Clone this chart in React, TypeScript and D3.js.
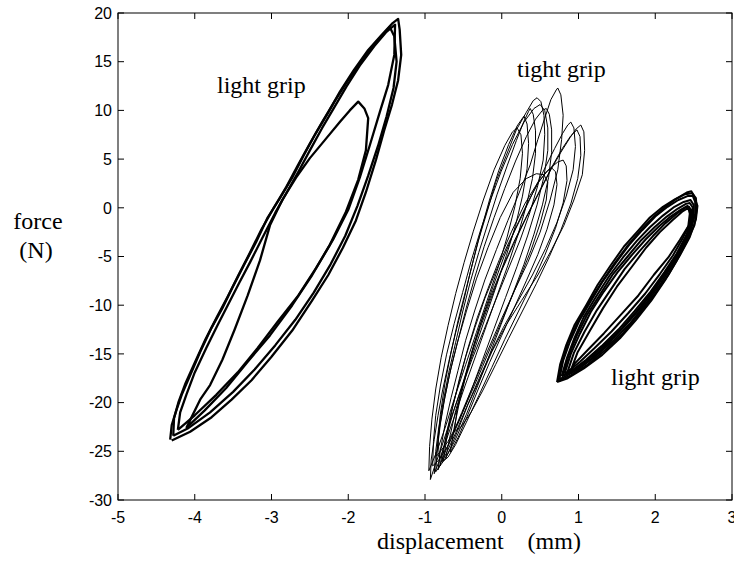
import React from "react";
import * as d3 from "d3";

type Pt = [number, number];

// tick values
const xTicks = [-5, -4, -3, -2, -1, 0, 1, 2, 3];
const yTicks = [20, 15, 10, 5, 0, -5, -10, -15, -20, -25, -30];

// left cluster: light grip (displacement mm, force N)
const leftLoop1: Pt[] = [
  [-4.32, -23.8], [-4.30, -22.3], [-4.24, -20.8], [-4.17, -19.2], [-4.06, -17.2], [-3.93, -14.8],
  [-3.78, -12.3], [-3.64, -10.3], [-3.51, -8.2], [-3.36, -5.9], [-3.20, -3.5], [-3.05, -1.0],
  [-2.89, 1.0], [-2.73, 3.1], [-2.58, 5.4], [-2.42, 7.7], [-2.26, 9.8], [-2.11, 11.9],
  [-1.93, 14.1], [-1.74, 16.2], [-1.56, 17.8], [-1.43, 18.9], [-1.35, 19.4],
  [-1.33, 18.3], [-1.31, 15.7], [-1.35, 13.1], [-1.43, 10.6], [-1.53, 8.0], [-1.64, 4.9],
  [-1.77, 1.6], [-1.90, -1.3], [-2.07, -4.1], [-2.26, -6.9], [-2.47, -9.5], [-2.73, -12.6],
  [-3.00, -15.3], [-3.26, -17.7], [-3.52, -19.7], [-3.78, -21.5], [-4.06, -23.0], [-4.30, -23.9],
];
const leftLoop2: Pt[] = [
  [-4.22, -22.8], [-4.19, -21.0], [-4.11, -19.2], [-4.00, -16.9], [-3.85, -14.4], [-3.70, -12.0],
  [-3.57, -10.0], [-3.42, -7.7], [-3.28, -5.6], [-3.12, -3.1], [-2.95, -0.5], [-2.80, 1.6],
  [-2.65, 3.7], [-2.50, 5.9], [-2.34, 8.2], [-2.19, 10.2], [-2.02, 12.5], [-1.85, 14.6],
  [-1.66, 16.6], [-1.51, 18.0], [-1.39, 18.8],
  [-1.40, 15.7], [-1.48, 12.6], [-1.59, 9.8], [-1.72, 6.4], [-1.85, 3.1], [-2.00, -0.2],
  [-2.20, -3.3], [-2.42, -6.2], [-2.65, -9.0], [-2.92, -11.7], [-3.18, -14.4], [-3.44, -16.9],
  [-3.72, -19.2], [-4.00, -21.3], [-4.22, -22.8],
];
const leftLoop3: Pt[] = [
  [-4.11, -22.6], [-4.06, -21.8], [-3.93, -19.7], [-3.80, -18.2], [-3.64, -15.6], [-3.48, -12.5],
  [-3.31, -9.0], [-3.15, -5.4], [-3.02, -1.8], [-2.86, 0.8], [-2.68, 3.1], [-2.50, 5.1],
  [-2.30, 7.0], [-2.11, 8.8], [-1.98, 10.0], [-1.87, 10.9], [-1.79, 10.2], [-1.74, 9.2],
  [-1.77, 5.9], [-1.87, 2.9], [-2.03, -0.4], [-2.24, -3.8], [-2.47, -6.9], [-2.73, -10.0],
  [-3.02, -13.1], [-3.31, -15.8], [-3.59, -18.5], [-3.87, -20.8], [-4.11, -22.6],
];
const leftLoop4: Pt[] = [
  [-4.28, -23.4], [-4.27, -21.6], [-4.21, -19.9], [-4.12, -18.0], [-4.00, -15.9], [-3.86, -13.5],
  [-3.71, -11.2], [-3.57, -9.1], [-3.43, -6.9], [-3.28, -4.6], [-3.13, -2.2], [-2.97, 0.0],
  [-2.81, 2.1], [-2.66, 4.3], [-2.50, 6.6], [-2.34, 8.8], [-2.18, 10.9], [-2.01, 13.0],
  [-1.83, 15.0], [-1.65, 16.9], [-1.52, 18.0], [-1.46, 18.6],
  [-1.40, 17.6], [-1.37, 15.0], [-1.41, 12.3], [-1.50, 9.4], [-1.61, 6.4], [-1.74, 3.3],
  [-1.88, 0.2], [-2.04, -2.9], [-2.23, -5.8], [-2.45, -8.7], [-2.69, -11.5], [-2.95, -14.1],
  [-3.22, -16.6], [-3.50, -18.9], [-3.80, -21.0], [-4.08, -22.6], [-4.28, -23.4],
];

// middle cluster: tight grip
const midLoopA: Pt[] = [
  [-0.93, -27.9], [-0.92, -25.9], [-0.88, -23.8], [-0.83, -21.3], [-0.77, -18.7], [-0.69, -15.8],
  [-0.60, -12.8], [-0.50, -9.7], [-0.41, -6.6], [-0.31, -3.5], [-0.19, -0.4], [-0.08, 2.6],
  [0.06, 5.4], [0.19, 8.0], [0.32, 9.8], [0.41, 11.0], [0.46, 11.3],
  [0.51, 10.9], [0.55, 9.5], [0.56, 7.5], [0.54, 4.9], [0.47, 2.3], [0.37, -0.4], [0.24, -3.3],
  [0.08, -6.4], [-0.08, -9.5], [-0.23, -12.5], [-0.39, -15.6], [-0.54, -18.9], [-0.67, -21.8],
  [-0.79, -24.7], [-0.88, -26.7], [-0.93, -27.9],
];
const midLoopB: Pt[] = [
  [-0.88, -27.3], [-0.86, -25.0], [-0.82, -22.5], [-0.76, -19.8], [-0.69, -16.9], [-0.60, -13.8],
  [-0.51, -10.7], [-0.41, -7.6], [-0.30, -4.6], [-0.18, -1.6], [-0.06, 1.4], [0.07, 4.3],
  [0.19, 6.9], [0.29, 8.9], [0.35, 9.9], [0.37, 10.2],
  [0.41, 9.6], [0.44, 7.9], [0.44, 5.6], [0.40, 3.0], [0.32, 0.2], [0.21, -2.8], [0.08, -5.9],
  [-0.06, -9.0], [-0.20, -12.1], [-0.34, -15.2], [-0.48, -18.3], [-0.61, -21.3], [-0.73, -24.0],
  [-0.82, -26.1], [-0.88, -27.3],
];
const midLoopC: Pt[] = [
  [-0.80, -26.5], [-0.83, -24.0], [-0.80, -21.2], [-0.74, -18.0], [-0.66, -14.8], [-0.57, -11.6],
  [-0.47, -8.5], [-0.37, -5.4], [-0.27, -2.3], [-0.16, 0.8], [-0.04, 3.8], [0.09, 6.5],
  [0.20, 8.4], [0.27, 9.2], [0.29, 9.4],
  [0.33, 8.6], [0.35, 6.6], [0.33, 4.0], [0.27, 1.2], [0.18, -1.8], [0.06, -4.9], [-0.07, -8.0],
  [-0.21, -11.2], [-0.35, -14.4], [-0.49, -17.6], [-0.62, -20.7], [-0.72, -23.4], [-0.78, -25.3],
  [-0.80, -26.5],
];
const midLoopD: Pt[] = [
  [-0.83, -26.9], [-0.80, -24.9], [-0.74, -22.3], [-0.66, -19.5], [-0.57, -16.7], [-0.47, -13.6],
  [-0.35, -10.5], [-0.22, -7.4], [-0.07, -4.3], [0.08, -1.3], [0.24, 1.8], [0.37, 4.4],
  [0.47, 7.0], [0.56, 9.2], [0.64, 11.1], [0.71, 12.1], [0.73, 12.3],
  [0.77, 11.6], [0.80, 9.5], [0.78, 7.0], [0.73, 3.9], [0.63, 0.8], [0.50, -2.5], [0.34, -5.6],
  [0.16, -8.6], [-0.02, -11.7], [-0.19, -14.8], [-0.36, -18.0], [-0.52, -21.0], [-0.67, -23.8],
  [-0.78, -25.9], [-0.83, -26.9],
];
const midLoopE: Pt[] = [
  [-0.78, -26.1], [-0.73, -23.6], [-0.66, -21.0], [-0.57, -18.3], [-0.47, -15.3], [-0.35, -12.3],
  [-0.22, -9.3], [-0.07, -6.4], [0.09, -3.6], [0.26, -0.9], [0.42, 1.8], [0.57, 4.2],
  [0.69, 6.1], [0.79, 7.6], [0.86, 8.5], [0.90, 8.8],
  [0.94, 8.2], [0.96, 6.3], [0.93, 3.9], [0.84, 1.2], [0.72, -1.5], [0.57, -4.2], [0.40, -6.9],
  [0.21, -9.6], [0.02, -12.3], [-0.15, -15.0], [-0.31, -17.8], [-0.46, -20.5], [-0.60, -23.1],
  [-0.71, -25.0], [-0.78, -26.1],
];
const midLoopF: Pt[] = [
  [-0.73, -25.7], [-0.67, -23.3], [-0.60, -20.8], [-0.50, -18.1], [-0.40, -15.2], [-0.28, -12.3],
  [-0.15, -9.5], [-0.01, -6.6], [0.15, -3.8], [0.32, -1.0], [0.49, 1.6], [0.64, 3.9],
  [0.77, 5.7], [0.89, 7.2], [0.97, 8.1], [1.03, 8.5],
  [1.07, 7.8], [1.08, 5.9], [1.05, 3.4], [0.94, 0.8], [0.81, -1.8], [0.65, -4.3], [0.47, -6.9],
  [0.26, -9.5], [0.06, -12.0], [-0.13, -14.8], [-0.28, -17.5], [-0.44, -20.2], [-0.57, -22.8],
  [-0.67, -24.7], [-0.73, -25.7],
];
const midLoopG: Pt[] = [
  [-0.67, -25.1], [-0.62, -22.6], [-0.55, -19.9], [-0.46, -17.0], [-0.36, -14.0], [-0.24, -11.0],
  [-0.11, -8.0], [0.03, -5.0], [0.18, -2.1], [0.34, 0.6], [0.48, 2.6], [0.58, 3.7], [0.65, 4.1],
  [0.70, 3.7], [0.72, 2.4], [0.68, 0.3], [0.59, -2.2], [0.47, -4.8], [0.32, -7.5], [0.16, -10.3],
  [0.00, -13.1], [-0.16, -15.9], [-0.31, -18.7], [-0.45, -21.4], [-0.57, -23.6], [-0.67, -25.1],
];
const midLoopH: Pt[] = [
  [-0.76, -26.0], [-0.71, -23.3], [-0.64, -20.5], [-0.55, -17.5], [-0.44, -14.4], [-0.32, -11.3],
  [-0.18, -8.3], [-0.03, -5.3], [0.13, -2.4], [0.30, 0.4], [0.47, 2.6], [0.62, 4.0], [0.73, 4.7],
  [0.80, 4.9],
  [0.84, 4.3], [0.85, 2.8], [0.80, 0.5], [0.70, -2.1], [0.56, -4.9], [0.40, -7.7], [0.22, -10.6],
  [0.04, -13.5], [-0.13, -16.4], [-0.30, -19.3], [-0.46, -22.0], [-0.60, -24.3], [-0.70, -25.6],
  [-0.76, -26.0],
];
const midLoopI: Pt[] = [
  [-0.86, -27.1], [-0.84, -24.8], [-0.80, -22.2], [-0.74, -19.4], [-0.66, -16.4], [-0.56, -13.3],
  [-0.46, -10.2], [-0.35, -7.1], [-0.23, -4.0], [-0.10, -1.0], [0.04, 2.0], [0.18, 4.8],
  [0.32, 7.3], [0.44, 9.1], [0.53, 10.0], [0.58, 10.2],
  [0.62, 9.6], [0.65, 8.0], [0.65, 5.7], [0.61, 3.1], [0.53, 0.3], [0.42, -2.7], [0.29, -5.8],
  [0.14, -8.9], [-0.01, -12.0], [-0.16, -15.1], [-0.31, -18.2], [-0.46, -21.2], [-0.61, -23.9],
  [-0.74, -25.8], [-0.86, -27.1],
];
const midLoopJ: Pt[] = [
  [-0.90, -26.5], [-0.89, -24.0], [-0.86, -21.3], [-0.80, -18.3], [-0.72, -15.1], [-0.62, -11.9],
  [-0.51, -8.7], [-0.40, -5.5], [-0.28, -2.4], [-0.15, 0.7], [-0.01, 3.7], [0.14, 6.5],
  [0.29, 8.8], [0.42, 10.2], [0.50, 10.6],
  [0.56, 10.0], [0.60, 8.2], [0.60, 5.9], [0.55, 3.2], [0.46, 0.3], [0.34, -2.8], [0.20, -6.0],
  [0.05, -9.2], [-0.10, -12.4], [-0.25, -15.6], [-0.40, -18.8], [-0.55, -21.8], [-0.69, -24.3],
  [-0.82, -25.9], [-0.90, -26.5],
];
const midLoopK: Pt[] = [
  [-0.62, -23.0], [-0.58, -20.6], [-0.50, -17.9], [-0.40, -15.0], [-0.28, -12.0], [-0.14, -9.0],
  [0.01, -6.1], [0.17, -3.3], [0.34, -0.6], [0.51, 2.0], [0.66, 4.3], [0.79, 6.1], [0.90, 7.4],
  [0.98, 8.0],
  [1.02, 7.3], [1.03, 5.4], [0.99, 3.0], [0.90, 0.4], [0.77, -2.3], [0.62, -5.0], [0.45, -7.8],
  [0.27, -10.6], [0.09, -13.4], [-0.08, -16.1], [-0.25, -18.8], [-0.40, -21.0], [-0.53, -22.5],
  [-0.62, -23.0],
];
const midLoopL: Pt[] = [
  [-0.85, -25.5], [-0.82, -23.0], [-0.76, -20.2], [-0.68, -17.1], [-0.58, -13.9], [-0.46, -10.6],
  [-0.33, -7.3], [-0.18, -4.1], [-0.02, -1.0], [0.15, 1.6], [0.32, 3.0], [0.45, 3.5], [0.55, 3.4],
  [0.60, 2.6], [0.58, 0.8], [0.50, -1.6], [0.38, -4.4], [0.23, -7.3], [0.07, -10.3], [-0.09, -13.3],
  [-0.25, -16.3], [-0.41, -19.2], [-0.56, -21.9], [-0.70, -24.0], [-0.85, -25.5],
];
const midLoopM: Pt[] = [
  [-0.95, -27.0], [-0.94, -24.5], [-0.91, -21.7], [-0.86, -18.6], [-0.79, -15.4], [-0.70, -12.1],
  [-0.60, -8.8], [-0.49, -5.6], [-0.37, -2.4], [-0.24, 0.8], [-0.10, 3.9], [0.04, 6.4],
  [0.14, 7.8], [0.20, 8.2],
  [0.25, 7.5], [0.27, 5.6], [0.24, 3.0], [0.17, 0.1], [0.07, -3.0], [-0.05, -6.2], [-0.19, -9.5],
  [-0.33, -12.8], [-0.47, -16.1], [-0.61, -19.4], [-0.73, -22.4], [-0.84, -24.9], [-0.95, -27.0],
];

// right cluster: light grip
const rightLoop1: Pt[] = [
  [0.72, -17.9], [0.76, -16.1], [0.84, -14.1], [0.95, -12.0], [1.10, -10.0], [1.25, -7.9],
  [1.42, -5.9], [1.59, -4.0], [1.76, -2.5], [1.93, -1.0], [2.10, 0.1], [2.26, 0.9], [2.39, 1.4],
  [2.48, 1.5],
  [2.53, 1.0], [2.54, -0.2], [2.51, -1.8], [2.41, -3.5], [2.28, -5.4], [2.13, -7.4], [1.95, -9.5],
  [1.75, -11.5], [1.54, -13.4], [1.31, -15.1], [1.07, -16.5], [0.86, -17.5], [0.72, -17.9],
];
const rightLoop2: Pt[] = [
  [0.75, -17.6], [0.80, -15.7], [0.89, -13.7], [1.01, -11.6], [1.16, -9.6], [1.32, -7.5],
  [1.49, -5.6], [1.66, -3.8], [1.83, -2.3], [2.00, -0.9], [2.16, 0.1], [2.30, 0.8], [2.42, 1.2],
  [2.49, 1.2],
  [2.52, 0.6], [2.52, -0.6], [2.47, -2.1], [2.37, -3.9], [2.23, -5.8], [2.07, -7.8], [1.88, -9.8],
  [1.68, -11.8], [1.46, -13.6], [1.23, -15.2], [1.01, -16.5], [0.83, -17.3], [0.75, -17.6],
];
const rightLoop3: Pt[] = [
  [0.78, -17.3], [0.85, -15.4], [0.95, -13.3], [1.07, -11.2], [1.23, -9.1], [1.40, -7.0],
  [1.58, -5.1], [1.76, -3.4], [1.93, -2.0], [2.10, -0.8], [2.25, 0.1], [2.37, 0.6], [2.46, 0.8],
  [2.50, 0.3], [2.50, -0.9], [2.44, -2.5], [2.33, -4.3], [2.18, -6.2], [2.01, -8.2], [1.82, -10.2],
  [1.61, -12.1], [1.39, -13.9], [1.17, -15.5], [0.97, -16.6], [0.84, -17.1], [0.78, -17.3],
];
const rightLoop4: Pt[] = [
  [0.82, -17.0], [0.90, -15.0], [1.02, -12.9], [1.16, -10.7], [1.33, -8.6], [1.51, -6.6],
  [1.70, -4.8], [1.88, -3.2], [2.05, -1.9], [2.20, -0.9], [2.33, -0.2], [2.42, 0.2],
  [2.47, -0.2], [2.47, -1.3], [2.40, -2.9], [2.28, -4.7], [2.12, -6.6], [1.94, -8.6], [1.73, -10.6],
  [1.52, -12.5], [1.30, -14.2], [1.10, -15.6], [0.93, -16.6], [0.82, -17.0],
];
const rightLoop5: Pt[] = [
  [0.89, -16.9], [0.99, -14.8], [1.15, -12.6], [1.32, -10.3], [1.50, -8.1], [1.70, -6.0],
  [1.88, -4.1], [2.06, -2.5], [2.22, -1.3], [2.35, -0.4], [2.43, 0.0],
  [2.45, -0.6], [2.43, -1.9], [2.32, -3.3], [2.17, -5.1], [1.98, -6.9], [1.78, -9.0], [1.55, -11.0],
  [1.33, -12.9], [1.12, -14.6], [0.95, -16.0], [0.89, -16.9],
];
const rightLoop6: Pt[] = [
  [0.74, -17.8], [0.78, -16.0], [0.86, -13.9], [0.98, -11.9], [1.13, -9.8], [1.29, -7.8],
  [1.46, -5.8], [1.63, -4.0], [1.80, -2.4], [1.97, -1.0], [2.13, 0.1], [2.29, 1.0], [2.42, 1.6],
  [2.47, 1.7],
  [2.50, 1.3], [2.55, 0.2], [2.53, -1.2], [2.45, -3.0], [2.32, -4.9], [2.17, -6.9], [1.99, -8.9],
  [1.79, -10.9], [1.58, -12.9], [1.35, -14.6], [1.12, -16.1], [0.90, -17.2], [0.74, -17.8],
];
const rightLoop7: Pt[] = [
  [0.80, -17.2], [0.87, -15.2], [0.98, -13.1], [1.11, -11.0], [1.28, -8.9], [1.45, -6.8],
  [1.64, -5.0], [1.82, -3.3], [1.99, -2.0], [2.15, -0.9], [2.29, -0.1], [2.40, 0.4], [2.45, 0.5],
  [2.49, 0.0], [2.49, -1.1], [2.42, -2.7], [2.31, -4.5], [2.15, -6.4], [1.98, -8.4], [1.78, -10.4],
  [1.57, -12.3], [1.35, -14.0], [1.14, -15.5], [0.95, -16.6], [0.80, -17.2],
];
const rightLoop8: Pt[] = [
  [0.85, -17.0], [0.94, -14.9], [1.08, -12.7], [1.24, -10.5], [1.42, -8.4], [1.60, -6.3],
  [1.79, -4.5], [1.97, -2.9], [2.13, -1.6], [2.28, -0.6], [2.39, 0.0], [2.44, 0.1],
  [2.46, -0.4], [2.45, -1.6], [2.36, -3.1], [2.23, -4.9], [2.06, -6.8], [1.87, -8.8], [1.65, -10.8],
  [1.43, -12.7], [1.21, -14.4], [1.02, -15.8], [0.88, -16.7], [0.85, -17.0],
];

const leftCluster = [leftLoop1, leftLoop2, leftLoop3, leftLoop4];
const midCluster = [
  midLoopA, midLoopB, midLoopC, midLoopD, midLoopE, midLoopF, midLoopG,
  midLoopH, midLoopI, midLoopJ, midLoopK, midLoopL, midLoopM,
];
const rightCluster = [
  rightLoop1, rightLoop2, rightLoop3, rightLoop4, rightLoop5, rightLoop6, rightLoop7, rightLoop8,
];

export default function App() {
  const width = 734;
  const height = 567;
  const margin = { left: 118, right: 2, top: 13, bottom: 67 };

  const x = d3.scaleLinear().domain([-5, 3]).range([margin.left, width - margin.right]);
  const y = d3.scaleLinear().domain([-30, 20]).range([height - margin.bottom, margin.top]);

  const line = d3.line<Pt>().x(d => x(d[0])).y(d => y(d[1]));

  const tickFont = "'Liberation Sans', Arial, Helvetica, sans-serif";
  const serif = "'Liberation Serif', 'Times New Roman', serif";
  const x0 = x(-5), x1 = x(3), y0 = y(-30), y1 = y(20);
  const tl = 6;

  return (
    <svg width={width} height={height} style={{ position: "absolute", left: 0, top: 0, background: "#fff" }}>
      <rect x={0} y={0} width={width} height={height} fill="#fff" />
      <g fill="none" stroke="#000" strokeLinejoin="round">
        {leftCluster.map((d, i) => (
          <path key={"l" + i} d={line(d) || ""} strokeWidth={2.3} />
        ))}
        {midCluster.map((d, i) => (
          <path key={"m" + i} d={line(d) || ""} strokeWidth={1} />
        ))}
        {rightCluster.map((d, i) => (
          <path key={"r" + i} d={line(d) || ""} strokeWidth={2} />
        ))}
      </g>

      <g stroke="#000" strokeWidth={1}>
        <rect x={x0} y={y1} width={x1 - x0} height={y0 - y1} fill="none" />
        {xTicks.map(t => (
          <g key={"xt" + t}>
            <line x1={x(t)} x2={x(t)} y1={y0} y2={y0 - tl} />
            <line x1={x(t)} x2={x(t)} y1={y1} y2={y1 + tl} />
          </g>
        ))}
        {yTicks.map(t => (
          <g key={"yt" + t}>
            <line x1={x0} x2={x0 + tl} y1={y(t)} y2={y(t)} />
            <line x1={x1} x2={x1 - tl} y1={y(t)} y2={y(t)} />
          </g>
        ))}
      </g>

      <g fontFamily={tickFont} fontSize={16} fill="#000">
        {xTicks.map(t => (
          <text key={"xl" + t} x={x(t)} y={y0 + 23} textAnchor="middle">{t}</text>
        ))}
        {yTicks.map(t => (
          <text key={"yl" + t} x={x0 - 6} y={y(t)} dy="0.36em" textAnchor="end">{t}</text>
        ))}
      </g>

      <g fontFamily={serif} fontSize={24} fill="#000">
        <text x={38} y={229} textAnchor="middle">force</text>
        <text x={36} y={258} textAnchor="middle">(N)</text>
        <text x={377} y={549} style={{ whiteSpace: "pre" }}>displacement    (mm)</text>
        <text x={217} y={93}>light grip</text>
        <text x={517} y={77}>tight grip</text>
        <text x={611} y={385}>light grip</text>
      </g>
    </svg>
  );
}
